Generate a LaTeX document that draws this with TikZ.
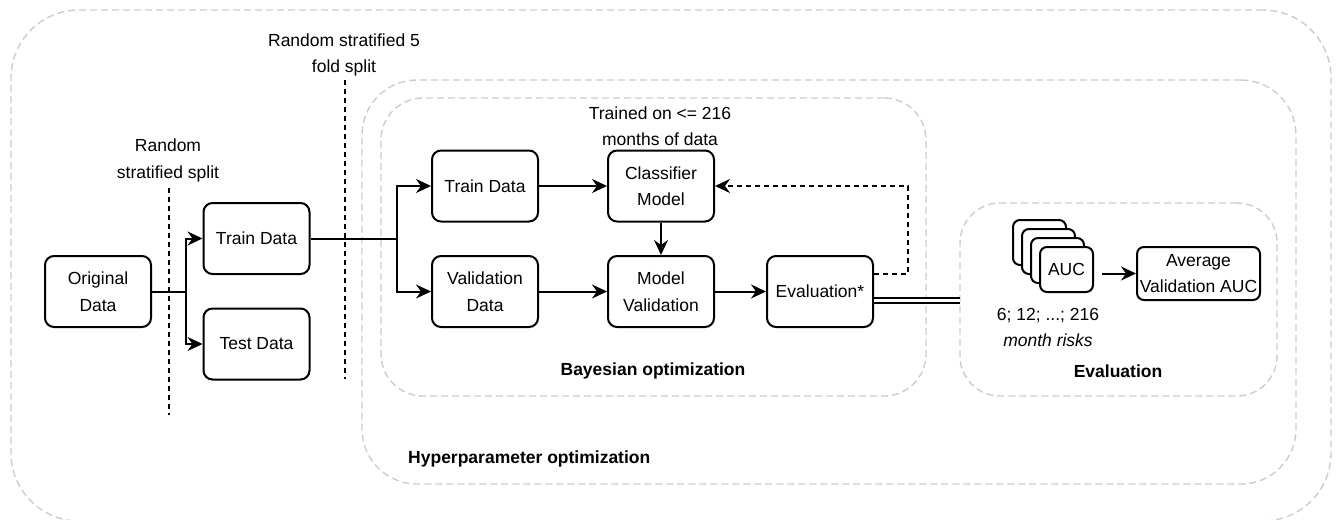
\documentclass[tikz,border=0pt]{standalone}
\usepackage{fontspec}
\setmainfont{Liberation Sans}
\usetikzlibrary{arrows.meta}
\definecolor{grpgray}{HTML}{CCCCCC}
\newcommand{\lblfont}{\fontsize{17.5}{26.5}\selectfont}
\tikzset{
  box/.style={draw, line width=2pt, rounded corners=9pt, fill=white,
    minimum width=106pt, minimum height=71pt, inner sep=0pt, align=center, font=\lblfont},
  aucbox/.style={draw, line width=2pt, rounded corners=7pt, fill=white,
    minimum width=53pt, minimum height=45pt, inner sep=0pt, font=\lblfont},
  grp/.style={draw=grpgray, line width=1.4pt, dash pattern=on 7pt off 4pt,
    inner sep=0pt, outer sep=0pt},
  lbl/.style={align=center, font=\lblfont, inner sep=0pt},
  link/.style={line width=2pt},
  flow/.style={link, -{Stealth[length=15pt, width=14pt, inset=5pt]}},
  feedback/.style={flow, dash pattern=on 5pt off 4pt},
  splitline/.style={line width=1.8pt, dash pattern=on 5pt off 4pt},
  dbl/.style={line width=1.8pt, double, double distance=3.5pt}
}
\begin{document}
\begin{tikzpicture}[x=1pt, y=-1pt]
\useasboundingbox (0,0) rectangle (1340,519);
\clip (0,0) rectangle (1340,519);

% grouping frames
\node[grp, rounded corners=68pt, minimum width=1320pt, minimum height=511pt] (outer) at (671,265.5) {};
\node[grp, rounded corners=55pt, minimum width=934pt, minimum height=404pt] (hyper) at (829,282) {};
\node[grp, rounded corners=42pt, minimum width=545pt, minimum height=298pt] (bayes) at (653.5,247) {};
\node[grp, rounded corners=40pt, minimum width=317pt, minimum height=193pt] (evalgrp) at (1118.5,299.5) {};

\node[lbl, font=\lblfont\bfseries, anchor=west] (hyperlbl) at (408,459) {Hyperparameter optimization};
\node[lbl, font=\lblfont\bfseries] (bayeslbl) at (653,371) {Bayesian optimization};
\node[lbl, font=\lblfont\bfseries] (evallbl) at (1118,371) {Evaluation};

% split markers
\draw[splitline] (169,188) coordinate (s1top) -- (169,415) coordinate (s1bot);
\node[lbl] (s1lbl) at (168,160.5) {Random\\stratified split};
\draw[splitline] (345,80) coordinate (s2top) -- (345,379) coordinate (s2bot);
\node[lbl] (s2lbl) at (344,55) {Random stratified 5\\fold split};

% data boxes
\node[box] (orig) at (98,291.5) {Original\\Data};
\node[box] (train1) at (256.5,238.5) {Train Data};
\node[box] (test) at (256.5,344) {Test Data};

\node[box] (train2) at (485,186) {Train Data};
\node[box] (clf) at (661,186) {Classifier\\Model};
\node[box] (valid) at (485,291.5) {Validation\\Data};
\node[box] (mval) at (661,291.5) {Model\\Validation};
\node[box] (evs) at (820,291.5) {Evaluation*};
\node[lbl] (trainedlbl) at (660,126) {Trained on <= 216\\months of data};

% stacked AUC cards
\node[aucbox] (auc4) at (1039.5,242.5) {};
\node[aucbox] (auc3) at (1048.5,251.5) {};
\node[aucbox] (auc2) at (1057.5,260.5) {};
\node[aucbox] (auc) at (1066.5,269.5) {AUC};
\node[box, rounded corners=7pt, minimum width=123pt, minimum height=53pt] (avg) at (1198.5,273.5)
  {\fontsize{17.5}{25}\selectfont Average\\Validation AUC};
\node[lbl] (risklbl) at (1048,327.5) {6; 12; ...; 216\\\itshape month risks};

% connectors
\coordinate (j1) at (186,291.5);
\draw[link] (orig) -- (j1);
\draw[flow] (j1) |- (train1);
\draw[flow] (j1) |- (test);

\coordinate (j2) at (397,238.5);
\draw[link] (train1) -- (j2);
\draw[flow] (j2) |- (train2);
\draw[flow] (j2) |- (valid);

\draw[flow] (train2) -- (clf);
\draw[flow] (valid) -- (mval);
\draw[flow] (clf) -- (mval);
\draw[flow] (mval) -- (evs);

\coordinate (fbstart) at ([yshift=18pt]evs.east);
\coordinate (fbcorner) at (908,186);
\draw[feedback] (fbstart) -| (fbcorner) -- (clf.east);

\coordinate (dblA) at ([yshift=-9pt]evs.east);
\draw[dbl] (dblA) -- (dblA -| evalgrp.west);

\coordinate (aucout) at (1102,273.5);
\draw[flow] (aucout) -- (avg.west);
\end{tikzpicture}
\end{document}
